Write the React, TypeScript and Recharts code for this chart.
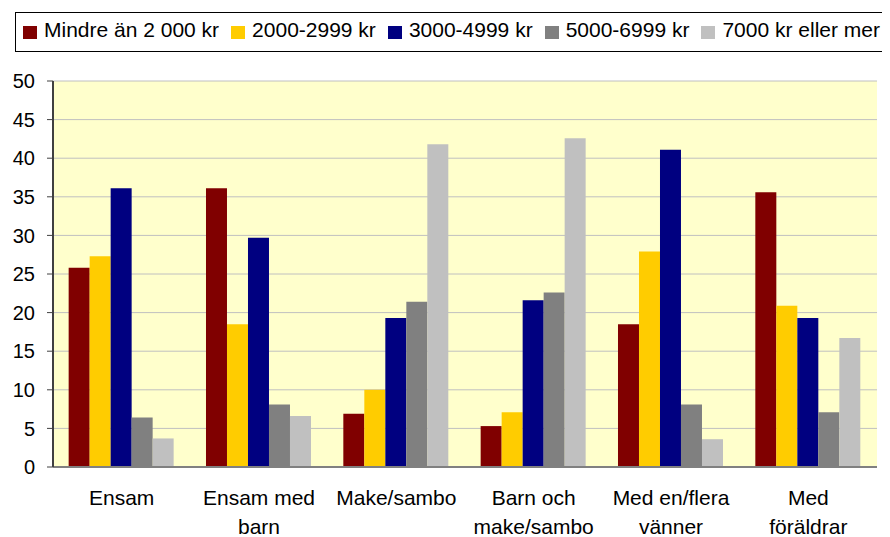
import React from "react";
import { BarChart, Bar, XAxis, YAxis, CartesianGrid } from "recharts";

const categories = [
  "Ensam",
  "Ensam med\nbarn",
  "Make/sambo",
  "Barn och\nmake/sambo",
  "Med en/flera\nvänner",
  "Med\nföräldrar",
];
const seriesNames = [
  "Mindre än 2 000 kr",
  "2000-2999 kr",
  "3000-4999 kr",
  "5000-6999 kr",
  "7000 kr eller mer",
];
const seriesColors = ["#800000", "#FFCC00", "#000080", "#808080", "#C0C0C0"];
const under2000 = [25.8, 36.1, 6.9, 5.3, 18.5, 35.6];
const r2000to2999 = [27.3, 18.5, 10.0, 7.1, 27.9, 20.9];
const r3000to4999 = [36.1, 29.7, 19.3, 21.6, 41.1, 19.3];
const r5000to6999 = [6.4, 8.1, 21.4, 22.6, 8.1, 7.1];
const r7000plus = [3.7, 6.6, 41.8, 42.6, 3.6, 16.7];
const yTicks = [0, 5, 10, 15, 20, 25, 30, 35, 40, 45, 50];

const seriesValues = [under2000, r2000to2999, r3000to4999, r5000to6999, r7000plus];
const keys = ["s0", "s1", "s2", "s3", "s4"];

const data = categories.map((cat, i) => {
  const row: Record<string, any> = { cat };
  seriesValues.forEach((vals, s) => {
    row[keys[s]] = vals[i];
  });
  return row;
});

const FONT = "'Liberation Sans', Arial, sans-serif";

const CategoryTick = (props: any) => {
  const { x, y, payload } = props;
  const lines = String(payload.value).split("\n");
  return (
    <text
      x={x}
      y={y}
      textAnchor="middle"
      fontFamily={FONT}
      fontSize={21}
      fill="#000"
    >
      {lines.map((l, i) => (
        <tspan key={i} x={x} dy={i === 0 ? 30 : 29}>
          {l}
        </tspan>
      ))}
    </text>
  );
};

export default function App() {
  return (
    <div
      style={{
        position: "relative",
        width: 890,
        height: 537,
        margin: "-8px 0 0 -8px",
        background: "#fff",
        fontFamily: FONT,
      }}
    >
      <BarChart
        width={890}
        height={537}
        data={data}
        margin={{ top: 81, right: 13, bottom: 0, left: 0 }}
        barGap={0}
        barCategoryGap="11.4%"
      >
        <CartesianGrid
          vertical={false}
          stroke="#C0C0C0"
          fill="#FFFFCC"
          fillOpacity={1}
        />
        <XAxis
          dataKey="cat"
          height={70}
          tick={<CategoryTick />}
          tickLine={false}
          axisLine={{ stroke: "#808080", strokeWidth: 2 }}
          interval={0}
        />
        <XAxis
          xAxisId="top"
          dataKey="cat"
          orientation="top"
          height={0}
          tick={false}
          tickLine={false}
          axisLine={{ stroke: "#808080", strokeWidth: 2 }}
        />
        <YAxis
          width={53}
          domain={[0, 50]}
          ticks={yTicks}
          interval={0}
          tickSize={6}
          tickMargin={12}
          tick={{ fontSize: 20, fill: "#000", fontFamily: FONT }}
          tickLine={{ stroke: "#404040" }}
          axisLine={{ stroke: "#404040", strokeWidth: 2 }}
        />
        <YAxis
          yAxisId="right"
          orientation="right"
          width={0}
          domain={[0, 50]}
          tick={false}
          tickLine={false}
          axisLine={{ stroke: "#808080", strokeWidth: 2 }}
        />
        {keys.map((k, s) => (
          <Bar
            key={k}
            dataKey={k}
            name={seriesNames[s]}
            fill={seriesColors[s]}
            isAnimationActive={false}
          />
        ))}
      </BarChart>
      <div
        style={{
          position: "absolute",
          left: 15,
          top: 12,
          width: 890,
          height: 40,
          border: "1px solid #000",
          boxSizing: "border-box",
          display: "flex",
          alignItems: "flex-start",
          paddingLeft: 7,
          whiteSpace: "nowrap",
        }}
      >
        {seriesNames.map((n, s) => (
          <div
            key={n}
            style={{ display: "flex", alignItems: "flex-start", marginRight: 12 }}
          >
            <div
              style={{
                width: 14,
                height: 13,
                marginTop: 13,
                marginRight: 7,
                background: seriesColors[s],
              }}
            />
            <span
              style={{
                fontSize: 21,
                lineHeight: "21px",
                marginTop: 6,
                color: "#000",
                fontFamily: FONT,
              }}
            >
              {n}
            </span>
          </div>
        ))}
      </div>
    </div>
  );
}
